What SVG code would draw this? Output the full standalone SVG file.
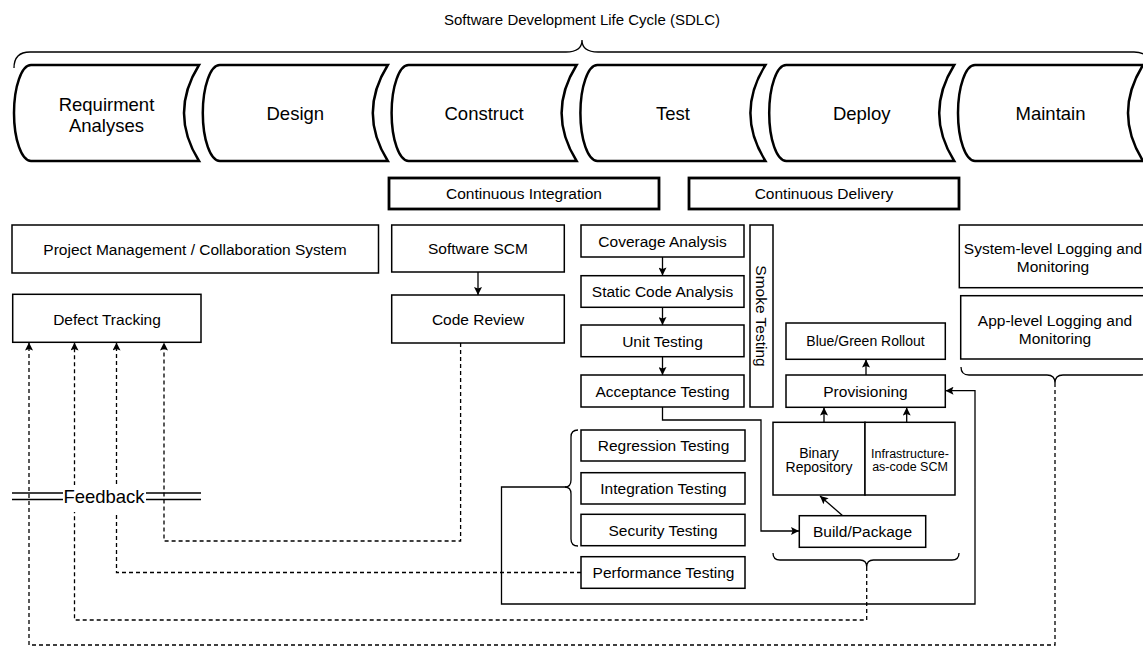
<svg xmlns="http://www.w3.org/2000/svg" width="1143" height="647" viewBox="0 0 1143 647">
<style>
text{font-family:"Liberation Sans",Arial,Helvetica,sans-serif;fill:#000;text-anchor:middle}
.stage{fill:#fff;stroke:#000;stroke-width:2.5}
.stage-t{font-size:18.5px}
.box{fill:#fff;stroke:#000;stroke-width:1.5}
.bold{fill:#fff;stroke:#000;stroke-width:2.8}
.t{font-size:15.5px}
.s14{font-size:14px}
.s12{font-size:12.5px}
.ln{fill:none;stroke:#000;stroke-width:1.3}
.dash{fill:none;stroke:#000;stroke-width:1.3;stroke-dasharray:4 3}
.brace{fill:none;stroke:#000;stroke-width:1.3}
</style>
<defs>
<marker id="arr" viewBox="0 0 10 10" refX="10" refY="5" markerWidth="9" markerHeight="8" orient="auto" markerUnits="userSpaceOnUse">
<path d="M0,0 L10,5 L0,10 L2,5 z" fill="#000"/>
</marker>
</defs>
<rect width="1143" height="647" fill="#fff"/>

<g id="title">
<text x="582" y="25" style="font-size:15px">Software Development Life Cycle (SDLC)</text>
<path class="brace" d="M14,68 Q14,52 30,52 L566,52 Q582,52 582,40 Q582,52 598,52 L1134,52 Q1150,52 1150,68"/>
</g>

<g id="stage-requirement">
<path class="stage" d="M31,65 L199,65 Q169,113 199,161 L31,161 A17 48 0 0 1 31,65 Z"/>
<text class="stage-t" x="106.5" y="111">Requirment</text>
<text class="stage-t" x="106.5" y="132">Analyses</text>
</g>
<g id="stage-design">
<path class="stage" d="M219.8,65 L387.8,65 Q357.8,113 387.8,161 L219.8,161 A17 48 0 0 1 219.8,65 Z"/>
<text class="stage-t" x="295.3" y="120">Design</text>
</g>
<g id="stage-construct">
<path class="stage" d="M408.6,65 L576.6,65 Q546.6,113 576.6,161 L408.6,161 A17 48 0 0 1 408.6,65 Z"/>
<text class="stage-t" x="484.1" y="120">Construct</text>
</g>
<g id="stage-test">
<path class="stage" d="M597.4,65 L765.4,65 Q735.4,113 765.4,161 L597.4,161 A17 48 0 0 1 597.4,65 Z"/>
<text class="stage-t" x="672.9" y="120">Test</text>
</g>
<g id="stage-deploy">
<path class="stage" d="M786.2,65 L954.2,65 Q924.2,113 954.2,161 L786.2,161 A17 48 0 0 1 786.2,65 Z"/>
<text class="stage-t" x="861.7" y="120">Deploy</text>
</g>
<g id="stage-maintain">
<path class="stage" d="M975,65 L1143,65 Q1113,113 1143,161 L975,161 A17 48 0 0 1 975,65 Z"/>
<text class="stage-t" x="1050.5" y="120">Maintain</text>
</g>

<g id="ci">
<rect class="bold" x="389" y="178" width="270" height="31"/>
<text class="t" x="524" y="199">Continuous Integration</text>
</g>
<g id="cd">
<rect class="bold" x="689" y="178" width="270" height="31"/>
<text class="t" x="824" y="199">Continuous Delivery</text>
</g>

<g id="connectors">
<line class="ln" x1="478" y1="272" x2="478" y2="295" marker-end="url(#arr)"/>
<line class="ln" x1="662.5" y1="257" x2="662.5" y2="275.5" marker-end="url(#arr)"/>
<line class="ln" x1="662.5" y1="307.3" x2="662.5" y2="325" marker-end="url(#arr)"/>
<line class="ln" x1="662.5" y1="356.7" x2="662.5" y2="375" marker-end="url(#arr)"/>
<polyline class="ln" points="662.5,407 662.5,420 761,420 761,531 799,531" marker-end="url(#arr)"/>
<line class="ln" x1="843" y1="516" x2="820" y2="496" marker-end="url(#arr)"/>
<line class="ln" x1="824" y1="422" x2="824" y2="407.5" marker-end="url(#arr)"/>
<line class="ln" x1="906.7" y1="422" x2="906.7" y2="407.5" marker-end="url(#arr)"/>
<line class="ln" x1="866" y1="375" x2="866" y2="359.5" marker-end="url(#arr)"/>
<polyline class="ln" points="566,487 501.5,487 501.5,604 975,604 975,390.7 945.5,390.7" marker-end="url(#arr)"/>
<polyline class="dash" points="460.6,343 460.6,541 164,541 164,342.5" marker-end="url(#arr)"/>
<polyline class="dash" points="581,572.5 116.5,572.5 116.5,342.5" marker-end="url(#arr)"/>
<polyline class="dash" points="866.7,567 866.7,620 74.5,620 74.5,342.5" marker-end="url(#arr)"/>
<polyline class="dash" points="1055,383 1055,645 29,645 29,342.5" marker-end="url(#arr)"/>
<path class="brace" d="M578,430 Q571,430 571,437 L571,480 Q571,487 565,487 Q571,487 571,494 L571,539 Q571,546 578,546"/>
<path class="brace" d="M773,553 Q773,560 780,560 L860,560 Q866.7,560 866.7,567 Q866.7,560 873.4,560 L952,560 Q959,560 959,553"/>
<path class="brace" d="M961,367 Q961,375 969,375 L1047,375 Q1055,375 1055,383 Q1055,375 1063,375 L1141,375 Q1149,375 1149,367"/>
</g>

<g id="feedback">
<line class="ln" x1="12" y1="493" x2="63" y2="493"/>
<line class="ln" x1="12" y1="499.5" x2="63" y2="499.5"/>
<line class="ln" x1="146" y1="493" x2="201" y2="493"/>
<line class="ln" x1="146" y1="499.5" x2="201" y2="499.5"/>
<rect x="63" y="485" width="83" height="27" fill="#fff"/>
<text x="104" y="503" style="font-size:18.5px">Feedback</text>
</g>

<g id="project-management">
<rect class="box" x="12" y="225" width="366.5" height="48"/>
<text class="t" x="195" y="255">Project Management / Collaboration System</text>
</g>
<g id="defect-tracking">
<rect class="box" x="12.7" y="294.3" width="188.3" height="48"/>
<text class="t" x="107" y="324.5">Defect Tracking</text>
</g>
<g id="software-scm">
<rect class="box" x="391.7" y="225" width="172.6" height="47"/>
<text class="t" x="478" y="254">Software SCM</text>
</g>
<g id="code-review">
<rect class="box" x="391.7" y="295" width="172.6" height="48"/>
<text class="t" x="478" y="324.5">Code Review</text>
</g>
<g id="coverage-analysis">
<rect class="box" x="581" y="225" width="163" height="32"/>
<text class="t" x="662.5" y="246.5">Coverage Analysis</text>
</g>
<g id="static-code-analysis">
<rect class="box" x="581" y="275.7" width="163" height="31.6"/>
<text class="t" x="662.5" y="297">Static Code Analysis</text>
</g>
<g id="unit-testing">
<rect class="box" x="581" y="325" width="163" height="31.7"/>
<text class="t" x="662.5" y="346.5">Unit Testing</text>
</g>
<g id="acceptance-testing">
<rect class="box" x="581" y="375" width="163" height="32"/>
<text class="t" x="662.5" y="396.5">Acceptance Testing</text>
</g>
<g id="smoke-testing">
<rect class="box" x="750" y="225" width="23" height="182"/>
<text class="t" transform="translate(761.5,316) rotate(90)" x="0" y="5.4">Smoke Testing</text>
</g>
<g id="regression-testing">
<rect class="box" x="581" y="430" width="164" height="31"/>
<text class="t" x="663.5" y="451">Regression Testing</text>
</g>
<g id="integration-testing">
<rect class="box" x="581" y="472.7" width="164" height="31.3"/>
<text class="t" x="663.5" y="494">Integration Testing</text>
</g>
<g id="security-testing">
<rect class="box" x="581" y="514.3" width="164" height="31.4"/>
<text class="t" x="663" y="535.5">Security Testing</text>
</g>
<g id="performance-testing">
<rect class="box" x="581" y="556.7" width="164" height="31.6"/>
<text class="t" x="663.5" y="578">Performance Testing</text>
</g>
<g id="blue-green-rollout">
<rect class="box" x="786" y="323" width="159.3" height="36.3"/>
<text class="s14" x="865.5" y="346">Blue/Green Rollout</text>
</g>
<g id="provisioning">
<rect class="box" x="786" y="375" width="159.3" height="32.3"/>
<text class="t" x="865.5" y="396.5">Provisioning</text>
</g>
<g id="binary-repository">
<rect class="box" x="773" y="422.3" width="92" height="72.7"/>
<text class="s14" x="819" y="458">Binary</text>
<text class="s14" x="819" y="472">Repository</text>
</g>
<g id="infrastructure-scm">
<rect class="box" x="865" y="422.3" width="90" height="72.7"/>
<text class="s12" x="910" y="457.5">Infrastructure-</text>
<text class="s12" x="910" y="471">as-code SCM</text>
</g>
<g id="build-package">
<rect class="box" x="799.3" y="515.7" width="126.4" height="31.6"/>
<text class="t" x="862.5" y="537">Build/Package</text>
</g>
<g id="system-logging">
<rect class="box" x="959.3" y="225" width="190" height="62.7"/>
<text class="t" x="1053" y="254">System-level Logging and</text>
<text class="t" x="1053" y="272">Monitoring</text>
</g>
<g id="app-logging">
<rect class="box" x="960.7" y="295.7" width="190" height="63.3"/>
<text class="t" x="1055" y="326">App-level Logging and</text>
<text class="t" x="1055" y="344">Monitoring</text>
</g>
</svg>
